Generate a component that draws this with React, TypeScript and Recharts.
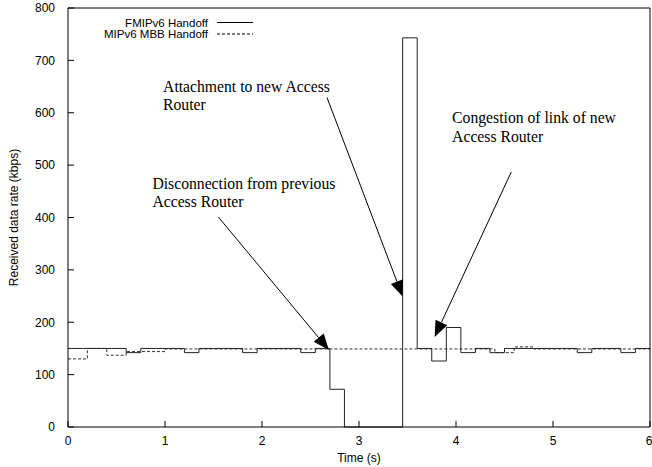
import React from "react";
import {
  Line,
  LineChart,
  ReferenceDot,
  ReferenceLine,
  XAxis,
  YAxis,
} from "recharts";

// FMIPv6 handoff: received rate sampled every 0.15 s (step plot)
const fmipTimes = [
  0, 0.15, 0.3, 0.45, 0.6, 0.75, 0.9, 1.05, 1.2, 1.35, 1.5, 1.65, 1.8, 1.95,
  2.1, 2.25, 2.4, 2.55, 2.7, 2.85, 3.0, 3.15, 3.3, 3.45, 3.6, 3.75, 3.9, 4.05,
  4.2, 4.35, 4.5, 4.65, 4.8, 4.95, 5.1, 5.25, 5.4, 5.55, 5.7, 5.85, 6.0,
];
const fmipRates = [
  150, 150, 150, 150, 142, 150, 150, 150, 142, 150, 150, 150, 142, 150,
  150, 150, 142, 150, 72, 0, 0, 0, 0, 743, 150, 126, 190, 142,
  150, 142, 150, 150, 150, 150, 150, 142, 150, 150, 142, 150, 150,
];

// MIPv6 make-before-break handoff
const mbbTimes = [0, 0.2, 0.4, 0.6, 1.0, 4.4, 4.6, 4.8, 6.0];
const mbbRates = [130, 150, 137, 144, 149, 142, 153, 149, 149];

const xTicks = [0, 1, 2, 3, 4, 5, 6];
const yTicks = [0, 100, 200, 300, 400, 500, 600, 700, 800];

// annotation texts, where they sit and where their arrows point (data units)
const noteLines = [
  ["Disconnection from previous", "Access Router"],
  ["Attachment to new Access", "Router"],
  ["Congestion of link of new", "Access Router"],
];
const noteAt = [
  { x: 0.87, y: 455 },
  { x: 0.98, y: 640 },
  { x: 3.96, y: 580 },
];
const arrowFrom = [
  { x: 1.55, y: 401 },
  { x: 2.67, y: 629 },
  { x: 4.57, y: 487 },
];
const arrowTo = [
  { x: 2.69, y: 147 },
  { x: 3.45, y: 249 },
  { x: 3.78, y: 172 },
];

const fmipData = fmipTimes.map((t, i) => ({ t, rate: fmipRates[i] }));
const mbbData = mbbTimes.map((t, i) => ({ t, rate: mbbRates[i] }));

const sansFont = "'Liberation Sans', Arial, sans-serif";
const serifFont = "'Liberation Serif', 'Times New Roman', serif";
const ink = "#000";

const series = [
  { name: "FMIPv6 Handoff", dash: undefined as string | undefined },
  { name: "MIPv6 MBB Handoff", dash: "3 2" },
];

function Arrow(props: any) {
  const { x1, y1, x2, y2 } = props;
  const dx = x2 - x1;
  const dy = y2 - y1;
  const len = Math.sqrt(dx * dx + dy * dy) || 1;
  const ux = dx / len;
  const uy = dy / len;
  const head = 16;
  const half = 6.5;
  const bx = x2 - ux * head;
  const by = y2 - uy * head;
  return (
    <g>
      <line x1={x1} y1={y1} x2={bx} y2={by} stroke={ink} strokeWidth={1} />
      <polygon
        points={`${x2},${y2} ${bx - uy * half},${by + ux * half} ${bx + uy * half},${by - ux * half}`}
        fill={ink}
      />
    </g>
  );
}

function NoteText(lines: string[]) {
  return (props: any) => (
    <text x={props.cx} y={props.cy} fontFamily={serifFont} fontSize={15.7} fill={ink}>
      {lines.map((s, i) => (
        <tspan key={i} x={props.cx} dy={i === 0 ? 0 : 18.3}>
          {s}
        </tspan>
      ))}
    </text>
  );
}

// key box in the top-left corner of the frame
function LegendBox() {
  return (
    <svg
      width={260}
      height={44}
      style={{ position: "absolute", left: 0, top: 0, pointerEvents: "none" }}
    >
      {series.map((s, i) => (
        <g key={s.name}>
          <text
            x={208}
            y={26.5 + i * 11.5}
            textAnchor="end"
            fontFamily={sansFont}
            fontSize={11.5}
            fill={ink}
          >
            {s.name}
          </text>
          <line
            x1={217}
            x2={253}
            y1={22.5 + i * 11.5}
            y2={22.5 + i * 11.5}
            stroke={ink}
            strokeDasharray={s.dash}
          />
        </g>
      ))}
    </svg>
  );
}

export default function App() {
  return (
    <div style={{ position: "absolute", left: 0, top: 0, width: 652, height: 467, background: "#fff" }}>
      <LineChart
        width={652}
        height={467}
        margin={{ top: 7, right: 0, bottom: 0, left: 0 }}
      >
        <XAxis
          dataKey="t"
          type="number"
          domain={[0, 6]}
          ticks={xTicks}
          height={40}
          stroke={ink}
          tickSize={-6}
          tickMargin={15}
          tick={{ fill: ink, fontSize: 12, fontFamily: sansFont }}
          allowDuplicatedCategory={false}
          label={{
            value: "Time (s)",
            position: "insideBottom",
            offset: 5,
            fill: ink,
            fontSize: 12,
            fontFamily: sansFont,
          }}
        />
        <XAxis
          xAxisId="top"
          orientation="top"
          dataKey="t"
          type="number"
          domain={[0, 6]}
          ticks={xTicks}
          height={1}
          stroke={ink}
          tickSize={-6}
          tick={() => <g />}
          allowDuplicatedCategory={false}
        />
        <YAxis
          type="number"
          domain={[0, 800]}
          ticks={yTicks}
          width={68}
          stroke={ink}
          tickSize={-6}
          tickMargin={19}
          tick={{ fill: ink, fontSize: 12, fontFamily: sansFont }}
          label={{
            value: "Received data rate (kbps)",
            angle: -90,
            position: "center",
            dx: -20,
            fill: ink,
            fontSize: 12,
            fontFamily: sansFont,
          }}
        />
        <YAxis
          yAxisId="right"
          orientation="right"
          type="number"
          domain={[0, 800]}
          ticks={yTicks}
          width={2}
          stroke={ink}
          tickSize={-6}
          tick={() => <g />}
        />
        <Line
          data={mbbData}
          dataKey="rate"
          name={series[1].name}
          type="stepAfter"
          stroke="#333"
          strokeWidth={1}
          strokeDasharray={series[1].dash}
          dot={false}
          isAnimationActive={false}
        />
        <Line
          data={fmipData}
          dataKey="rate"
          name={series[0].name}
          type="stepAfter"
          stroke="#222"
          strokeWidth={1}
          dot={false}
          isAnimationActive={false}
        />
        {arrowFrom.map((p, i) => (
          <ReferenceLine
            key={`arrow-${i}`}
            segment={[p, arrowTo[i]]}
            shape={Arrow}
            ifOverflow="visible"
          />
        ))}
        {noteAt.map((p, i) => (
          <ReferenceDot
            key={`note-${i}`}
            x={p.x}
            y={p.y}
            r={0}
            shape={NoteText(noteLines[i])}
            ifOverflow="visible"
          />
        ))}
      </LineChart>
      <LegendBox />
    </div>
  );
}
